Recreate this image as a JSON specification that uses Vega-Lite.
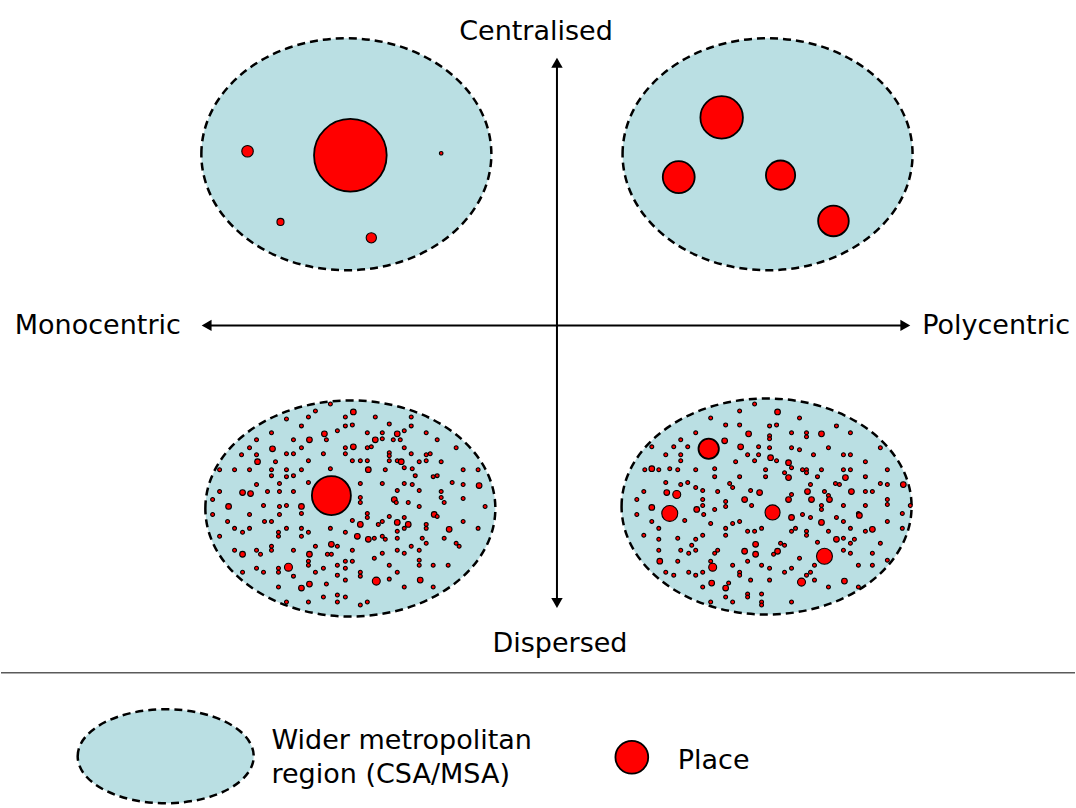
{
  "$schema": "https://vega.github.io/schema/vega-lite/v6.json",
  "width": 1076,
  "height": 808,
  "autosize": {"type": "fit", "contains": "padding"},
  "padding": 0,
  "background": "white",
  "config": {"view": {"stroke": null}},
  "datasets": {
    "regions": [
      {"x": 346, "y": 155, "kind": "top"},
      {"x": 768, "y": 155, "kind": "top"},
      {"x": 350, "y": 511, "kind": "bottom"},
      {"x": 767, "y": 509, "kind": "bottom"},
      {"x": 165, "y": 760, "kind": "legend"}
    ],
    "lines": [
      {"x": 557, "y": 62, "x2": 557, "y2": 607},
      {"x": 205, "y": 327, "x2": 907, "y2": 327}
    ],
    "separator": [
      {"x": 0, "y": 676, "x2": 1076, "y2": 676}
    ],
    "heads": [
      {"x": 557, "y": 63, "dir": "up"},
      {"x": 557, "y": 606, "dir": "down"},
      {"x": 206, "y": 327, "dir": "left"},
      {"x": 906, "y": 327, "dir": "right"}
    ],
    "labels": [
      {"x": 536, "y": 32, "label": "Centralised", "pos": "center"},
      {"x": 560, "y": 647, "label": "Dispersed", "pos": "center"},
      {"x": 97, "y": 328, "label": "Monocentric", "pos": "center"},
      {"x": 997, "y": 328, "label": "Polycentric", "pos": "center"},
      {"x": 271, "y": 745, "label": "Wider metropolitan", "pos": "left"},
      {"x": 271, "y": 779, "label": "region (CSA/MSA)", "pos": "left"},
      {"x": 678, "y": 765, "label": "Place", "pos": "left"}
    ],
    "places": [
      {"x":350,"y":156,"r":41},{"x":247,"y":152,"r":6.5},{"x":441,"y":154,"r":2},{"x":280,"y":223,"r":4},{"x":371,"y":239,"r":5.8},
      {"x":722,"y":118,"r":24},{"x":679,"y":178,"r":18},{"x":781,"y":176,"r":16.5},{"x":834,"y":222,"r":17.3},
      {"x":331,"y":498,"r":22},
      {"x":709,"y":451,"r":11.5},{"x":670,"y":516,"r":9},{"x":773,"y":515,"r":8.5},{"x":825,"y":559,"r":9},
      {"x":632,"y":761,"r":18.5},
      {"x":330,"y":406,"r":2.2},{"x":315,"y":413,"r":2.2},{"x":286,"y":421,"r":2.2},{"x":308,"y":419,"r":2.2},{"x":345,"y":419,"r":2.2},
      {"x":301,"y":428,"r":2.2},{"x":345,"y":428,"r":2.2},{"x":337,"y":433,"r":2.2},{"x":271,"y":435,"r":2.2},{"x":324,"y":436,"r":3.2},
      {"x":256,"y":442,"r":2.2},{"x":309,"y":442,"r":3.2},{"x":293,"y":442,"r":2.2},{"x":326,"y":442,"r":2.2},{"x":249,"y":450,"r":2.2},
      {"x":272,"y":451,"r":3.2},{"x":301,"y":450,"r":2.2},{"x":345,"y":450,"r":2.2},{"x":241,"y":457,"r":2.2},{"x":256,"y":457,"r":2.2},
      {"x":286,"y":456,"r":2.2},{"x":293,"y":456,"r":2.2},{"x":323,"y":456,"r":2.2},{"x":345,"y":456,"r":2.2},{"x":257,"y":464,"r":3.2},
      {"x":275,"y":464,"r":2.2},{"x":308,"y":463,"r":2.2},{"x":219,"y":472,"r":2.2},{"x":234,"y":472,"r":2.2},{"x":249,"y":472,"r":2.2},
      {"x":271,"y":472,"r":2.2},{"x":286,"y":472,"r":2.2},{"x":301,"y":472,"r":2.2},{"x":330,"y":471,"r":2.2},{"x":271,"y":478,"r":2.2},
      {"x":286,"y":479,"r":2.2},{"x":293,"y":478,"r":2.2},{"x":308,"y":485,"r":2.2},{"x":256,"y":487,"r":2.2},{"x":279,"y":486,"r":2.2},
      {"x":219,"y":494,"r":2.2},{"x":242,"y":495,"r":3.2},{"x":250,"y":496,"r":3.2},{"x":267,"y":494,"r":2.2},{"x":279,"y":494,"r":2.2},
      {"x":293,"y":494,"r":2.2},{"x":212,"y":502,"r":2.2},{"x":228,"y":509,"r":3.2},{"x":263,"y":508,"r":2.2},{"x":279,"y":509,"r":2.2},
      {"x":286,"y":508,"r":2.2},{"x":301,"y":509,"r":3.2},
      {"x":353,"y":414,"r":3.2},{"x":375,"y":419,"r":2.2},{"x":411,"y":419,"r":2.2},{"x":352,"y":427,"r":2.2},{"x":389,"y":426,"r":2.2},
      {"x":411,"y":428,"r":2.2},{"x":367,"y":435,"r":2.2},{"x":382,"y":435,"r":2.2},{"x":397,"y":436,"r":3.2},{"x":404,"y":433,"r":2.2},
      {"x":426,"y":435,"r":2.2},{"x":375,"y":442,"r":3.2},{"x":382,"y":441,"r":2.2},{"x":393,"y":442,"r":2.2},{"x":400,"y":442,"r":2.2},
      {"x":437,"y":442,"r":2.2},{"x":353,"y":449,"r":3.2},{"x":367,"y":450,"r":2.2},{"x":371,"y":449,"r":2.2},{"x":404,"y":450,"r":2.2},
      {"x":456,"y":450,"r":2.2},{"x":389,"y":455,"r":2.2},{"x":389,"y":458,"r":2.2},{"x":411,"y":456,"r":2.2},{"x":426,"y":457,"r":2.2},
      {"x":430,"y":456,"r":2.2},{"x":352,"y":463,"r":2.2},{"x":360,"y":463,"r":2.2},{"x":367,"y":463,"r":2.2},{"x":389,"y":463,"r":2.2},
      {"x":397,"y":463,"r":2.2},{"x":401,"y":464,"r":3.2},{"x":419,"y":464,"r":2.2},{"x":426,"y":463,"r":2.2},{"x":441,"y":464,"r":2.2},
      {"x":404,"y":470,"r":2.2},{"x":368,"y":472,"r":3.2},{"x":385,"y":472,"r":2.2},{"x":412,"y":471,"r":2.2},{"x":463,"y":472,"r":2.2},
      {"x":478,"y":472,"r":2.2},{"x":415,"y":478,"r":2.2},{"x":433,"y":479,"r":2.2},{"x":437,"y":478,"r":2.2},{"x":360,"y":486,"r":2.2},
      {"x":382,"y":486,"r":2.2},{"x":404,"y":486,"r":2.2},{"x":412,"y":487,"r":2.2},{"x":452,"y":485,"r":2.2},{"x":463,"y":487,"r":2.2},
      {"x":479,"y":488,"r":3.2},{"x":397,"y":493,"r":2.2},{"x":419,"y":493,"r":2.2},{"x":441,"y":494,"r":2.2},{"x":360,"y":500,"r":2.2},
      {"x":360,"y":505,"r":2.2},{"x":394,"y":502,"r":3.2},{"x":396,"y":505,"r":2.2},{"x":408,"y":505,"r":2.2},{"x":441,"y":500,"r":2.2},
      {"x":444,"y":505,"r":2.2},{"x":463,"y":501,"r":2.2},{"x":419,"y":509,"r":2.2},{"x":485,"y":509,"r":2.2},
      {"x":212,"y":517,"r":2.2},{"x":249,"y":517,"r":2.2},{"x":279,"y":517,"r":2.2},{"x":301,"y":516,"r":2.2},{"x":227,"y":524,"r":2.2},
      {"x":264,"y":524,"r":2.2},{"x":271,"y":524,"r":2.2},{"x":234,"y":531,"r":2.2},{"x":242,"y":535,"r":2.2},{"x":249,"y":531,"r":2.2},
      {"x":278,"y":535,"r":2.2},{"x":278,"y":539,"r":2.2},{"x":286,"y":531,"r":2.2},{"x":301,"y":531,"r":2.2},{"x":308,"y":535,"r":2.2},
      {"x":301,"y":539,"r":2.2},{"x":330,"y":531,"r":2.2},{"x":345,"y":535,"r":2.2},{"x":219,"y":539,"r":2.2},{"x":271,"y":549,"r":2.2},
      {"x":271,"y":553,"r":2.2},{"x":234,"y":553,"r":2.2},{"x":242,"y":557,"r":3.2},{"x":256,"y":553,"r":2.2},{"x":260,"y":557,"r":2.2},
      {"x":293,"y":553,"r":2.2},{"x":309,"y":557,"r":3.2},{"x":315,"y":549,"r":2.2},{"x":331,"y":547,"r":3.2},{"x":337,"y":549,"r":2.2},
      {"x":327,"y":557,"r":2.2},{"x":331,"y":557,"r":2.2},{"x":345,"y":564,"r":2.2},{"x":308,"y":564,"r":2.2},{"x":308,"y":568,"r":2.2},
      {"x":256,"y":571,"r":2.2},{"x":278,"y":571,"r":2.2},{"x":288,"y":570,"r":4.5},{"x":323,"y":571,"r":2.2},{"x":337,"y":568,"r":2.2},
      {"x":345,"y":571,"r":2.2},{"x":242,"y":575,"r":2.2},{"x":263,"y":575,"r":2.2},{"x":278,"y":575,"r":2.2},{"x":293,"y":579,"r":2.2},
      {"x":315,"y":575,"r":2.2},{"x":337,"y":578,"r":2.2},{"x":345,"y":583,"r":2.2},{"x":278,"y":590,"r":2.2},{"x":301,"y":591,"r":3.2},
      {"x":309,"y":587,"r":3.2},{"x":326,"y":587,"r":2.2},{"x":337,"y":598,"r":2.2},{"x":345,"y":600,"r":2.2},{"x":323,"y":600,"r":2.2},
      {"x":286,"y":605,"r":2.2},{"x":308,"y":605,"r":2.2},{"x":337,"y":605,"r":2.2},
      {"x":367,"y":516,"r":2.2},{"x":367,"y":520,"r":2.2},{"x":389,"y":519,"r":2.2},{"x":404,"y":520,"r":2.2},{"x":434,"y":517,"r":3.2},
      {"x":437,"y":519,"r":2.2},{"x":352,"y":523,"r":2.2},{"x":360,"y":527,"r":3.2},{"x":378,"y":527,"r":2.2},{"x":382,"y":524,"r":2.2},
      {"x":397,"y":525,"r":3.2},{"x":408,"y":527,"r":3.2},{"x":404,"y":531,"r":2.2},{"x":397,"y":534,"r":2.2},{"x":426,"y":527,"r":2.2},
      {"x":426,"y":531,"r":2.2},{"x":463,"y":524,"r":2.2},{"x":478,"y":531,"r":2.2},{"x":449,"y":532,"r":3.2},{"x":357,"y":539,"r":3.2},
      {"x":368,"y":542,"r":3.2},{"x":374,"y":541,"r":2.2},{"x":382,"y":539,"r":2.2},{"x":385,"y":542,"r":2.2},{"x":397,"y":541,"r":2.2},
      {"x":422,"y":541,"r":2.2},{"x":426,"y":546,"r":2.2},{"x":444,"y":541,"r":2.2},{"x":456,"y":546,"r":2.2},{"x":459,"y":549,"r":2.2},
      {"x":411,"y":549,"r":2.2},{"x":352,"y":553,"r":2.2},{"x":382,"y":556,"r":2.2},{"x":397,"y":553,"r":2.2},{"x":404,"y":556,"r":2.2},
      {"x":419,"y":553,"r":2.2},{"x":374,"y":561,"r":2.2},{"x":352,"y":564,"r":2.2},{"x":419,"y":563,"r":2.2},{"x":419,"y":568,"r":2.2},
      {"x":389,"y":568,"r":2.2},{"x":433,"y":568,"r":2.2},{"x":448,"y":568,"r":2.2},{"x":360,"y":575,"r":2.2},{"x":360,"y":579,"r":2.2},
      {"x":397,"y":575,"r":2.2},{"x":376,"y":584,"r":4.5},{"x":389,"y":582,"r":2.2},{"x":420,"y":583,"r":3.2},{"x":404,"y":590,"r":2.2},
      {"x":433,"y":590,"r":2.2},{"x":360,"y":608,"r":2.2},{"x":367,"y":605,"r":2.2},
      {"x":755,"y":406,"r":2.2},{"x":740,"y":413,"r":2.2},{"x":711,"y":420,"r":2.2},{"x":726,"y":427,"r":2.2},{"x":740,"y":427,"r":2.2},
      {"x":696,"y":435,"r":2.2},{"x":749,"y":436,"r":3.2},{"x":681,"y":442,"r":2.2},{"x":725,"y":443,"r":3.2},{"x":652,"y":449,"r":2.2},
      {"x":674,"y":449,"r":2.2},{"x":688,"y":449,"r":2.2},{"x":741,"y":449,"r":3.2},{"x":759,"y":449,"r":2.2},{"x":666,"y":457,"r":2.2},
      {"x":681,"y":457,"r":2.2},{"x":681,"y":463,"r":2.2},{"x":748,"y":457,"r":2.2},{"x":759,"y":457,"r":2.2},{"x":736,"y":464,"r":2.2},
      {"x":755,"y":463,"r":2.2},{"x":645,"y":472,"r":2.2},{"x":652,"y":471,"r":3.2},{"x":659,"y":472,"r":2.2},{"x":670,"y":471,"r":2.2},
      {"x":678,"y":472,"r":2.2},{"x":696,"y":472,"r":2.2},{"x":715,"y":471,"r":2.2},{"x":715,"y":479,"r":2.2},{"x":740,"y":479,"r":2.2},
      {"x":766,"y":472,"r":2.2},{"x":766,"y":479,"r":2.2},{"x":666,"y":485,"r":2.2},{"x":681,"y":487,"r":2.2},{"x":688,"y":485,"r":2.2},
      {"x":696,"y":490,"r":2.2},{"x":703,"y":493,"r":2.2},{"x":718,"y":494,"r":2.2},{"x":730,"y":486,"r":2.2},{"x":733,"y":490,"r":2.2},
      {"x":751,"y":493,"r":2.2},{"x":760,"y":495,"r":3.2},{"x":644,"y":494,"r":2.2},{"x":667,"y":495,"r":3.2},{"x":677,"y":497,"r":4.5},
      {"x":637,"y":502,"r":2.2},{"x":703,"y":502,"r":2.2},{"x":726,"y":504,"r":2.2},{"x":745,"y":502,"r":3.2},{"x":752,"y":508,"r":2.2},
      {"x":703,"y":508,"r":2.2},{"x":726,"y":509,"r":2.2},
      {"x":778,"y":414,"r":3.2},{"x":800,"y":420,"r":2.2},{"x":770,"y":428,"r":2.2},{"x":777,"y":427,"r":2.2},{"x":837,"y":428,"r":2.2},
      {"x":770,"y":438,"r":2.2},{"x":770,"y":441,"r":2.2},{"x":792,"y":435,"r":2.2},{"x":807,"y":435,"r":2.2},{"x":807,"y":439,"r":2.2},
      {"x":822,"y":436,"r":3.2},{"x":851,"y":435,"r":2.2},{"x":770,"y":450,"r":2.2},{"x":792,"y":450,"r":2.2},{"x":800,"y":452,"r":2.2},
      {"x":829,"y":450,"r":2.2},{"x":881,"y":450,"r":2.2},{"x":814,"y":457,"r":2.2},{"x":844,"y":457,"r":2.2},{"x":851,"y":457,"r":2.2},
      {"x":771,"y":460,"r":3.2},{"x":777,"y":463,"r":2.2},{"x":789,"y":465,"r":3.2},{"x":866,"y":464,"r":2.2},{"x":792,"y":470,"r":2.2},
      {"x":785,"y":475,"r":2.2},{"x":789,"y":480,"r":3.2},{"x":803,"y":472,"r":2.2},{"x":807,"y":472,"r":2.2},{"x":807,"y":475,"r":2.2},
      {"x":822,"y":472,"r":2.2},{"x":844,"y":472,"r":2.2},{"x":851,"y":472,"r":2.2},{"x":888,"y":472,"r":2.2},{"x":818,"y":479,"r":2.2},
      {"x":846,"y":480,"r":3.2},{"x":866,"y":479,"r":2.2},{"x":811,"y":487,"r":2.2},{"x":836,"y":486,"r":2.2},{"x":840,"y":487,"r":2.2},
      {"x":881,"y":486,"r":2.2},{"x":888,"y":487,"r":2.2},{"x":904,"y":487,"r":3.2},{"x":808,"y":494,"r":3.2},{"x":825,"y":494,"r":2.2},
      {"x":829,"y":498,"r":2.2},{"x":852,"y":494,"r":3.2},{"x":866,"y":494,"r":2.2},{"x":873,"y":494,"r":2.2},{"x":792,"y":497,"r":2.2},
      {"x":789,"y":502,"r":3.2},{"x":812,"y":502,"r":3.2},{"x":830,"y":502,"r":3.2},{"x":888,"y":502,"r":2.2},{"x":822,"y":508,"r":2.2},
      {"x":844,"y":508,"r":2.2},{"x":866,"y":508,"r":2.2},{"x":888,"y":507,"r":2.2},{"x":911,"y":508,"r":2.2},
      {"x":637,"y":517,"r":2.2},{"x":652,"y":510,"r":3.2},{"x":652,"y":524,"r":2.2},{"x":685,"y":523,"r":2.2},{"x":697,"y":512,"r":3.2},
      {"x":704,"y":517,"r":2.2},{"x":715,"y":512,"r":2.2},{"x":659,"y":531,"r":2.2},{"x":711,"y":526,"r":2.2},{"x":726,"y":531,"r":2.2},
      {"x":733,"y":526,"r":2.2},{"x":740,"y":524,"r":2.2},{"x":644,"y":538,"r":2.2},{"x":659,"y":542,"r":2.2},{"x":678,"y":541,"r":2.2},
      {"x":696,"y":542,"r":2.2},{"x":703,"y":538,"r":2.2},{"x":726,"y":538,"r":2.2},{"x":748,"y":534,"r":2.2},{"x":755,"y":534,"r":2.2},
      {"x":762,"y":531,"r":2.2},{"x":692,"y":548,"r":2.2},{"x":756,"y":547,"r":3.2},{"x":659,"y":553,"r":2.2},{"x":681,"y":553,"r":2.2},
      {"x":689,"y":556,"r":2.2},{"x":696,"y":553,"r":2.2},{"x":715,"y":556,"r":2.2},{"x":718,"y":553,"r":2.2},{"x":745,"y":554,"r":3.2},
      {"x":756,"y":557,"r":3.2},{"x":660,"y":564,"r":3.2},{"x":678,"y":564,"r":2.2},{"x":711,"y":564,"r":2.2},{"x":713,"y":570,"r":4.5},
      {"x":733,"y":568,"r":2.2},{"x":748,"y":564,"r":2.2},{"x":762,"y":568,"r":2.2},{"x":666,"y":575,"r":2.2},{"x":674,"y":578,"r":2.2},
      {"x":689,"y":575,"r":2.2},{"x":696,"y":578,"r":2.2},{"x":703,"y":575,"r":2.2},{"x":740,"y":575,"r":2.2},{"x":740,"y":578,"r":2.2},
      {"x":751,"y":583,"r":2.2},{"x":712,"y":586,"r":3.2},{"x":729,"y":586,"r":2.2},{"x":703,"y":590,"r":2.2},{"x":726,"y":591,"r":3.2},
      {"x":762,"y":597,"r":2.2},{"x":748,"y":597,"r":2.2},{"x":748,"y":600,"r":2.2},{"x":726,"y":600,"r":2.2},{"x":711,"y":605,"r":2.2},
      {"x":733,"y":605,"r":2.2},{"x":762,"y":605,"r":2.2},{"x":762,"y":608,"r":2.2},
      {"x":792,"y":520,"r":3.2},{"x":803,"y":517,"r":2.2},{"x":811,"y":520,"r":2.2},{"x":822,"y":512,"r":2.2},{"x":822,"y":525,"r":3.2},
      {"x":837,"y":520,"r":2.2},{"x":844,"y":524,"r":2.2},{"x":859,"y":516,"r":2.2},{"x":860,"y":518,"r":3.2},{"x":851,"y":531,"r":2.2},
      {"x":888,"y":524,"r":2.2},{"x":903,"y":516,"r":2.2},{"x":903,"y":531,"r":2.2},{"x":873,"y":532,"r":3.2},{"x":866,"y":534,"r":2.2},
      {"x":792,"y":534,"r":2.2},{"x":796,"y":531,"r":2.2},{"x":807,"y":534,"r":2.2},{"x":807,"y":538,"r":2.2},{"x":829,"y":534,"r":2.2},
      {"x":837,"y":542,"r":3.2},{"x":844,"y":541,"r":2.2},{"x":855,"y":542,"r":2.2},{"x":851,"y":546,"r":2.2},{"x":818,"y":545,"r":2.2},
      {"x":781,"y":546,"r":2.2},{"x":785,"y":548,"r":2.2},{"x":778,"y":554,"r":3.2},{"x":774,"y":557,"r":2.2},{"x":844,"y":553,"r":2.2},
      {"x":851,"y":556,"r":2.2},{"x":881,"y":546,"r":2.2},{"x":873,"y":556,"r":2.2},{"x":800,"y":561,"r":2.2},{"x":770,"y":571,"r":2.2},
      {"x":792,"y":571,"r":2.2},{"x":815,"y":568,"r":2.2},{"x":859,"y":568,"r":2.2},{"x":873,"y":568,"r":2.2},{"x":888,"y":563,"r":2.2},
      {"x":785,"y":575,"r":2.2},{"x":811,"y":575,"r":2.2},{"x":807,"y":578,"r":2.2},{"x":770,"y":583,"r":2.2},{"x":815,"y":583,"r":2.2},
      {"x":802,"y":585,"r":4.5},{"x":845,"y":584,"r":3.2},{"x":829,"y":590,"r":2.2},{"x":859,"y":590,"r":2.2},{"x":792,"y":605,"r":2.2}
    ]
  },
  "encoding": {
    "x": {"field": "x", "type": "quantitative", "scale": {"domain": [0, 1076], "nice": false, "zero": false}, "axis": null},
    "y": {"field": "y", "type": "quantitative", "scale": {"domain": [0, 808], "nice": false, "zero": false, "reverse": true}, "axis": null}
  },
  "layer": [
    {
      "data": {"name": "separator"},
      "mark": {"type": "rule", "color": "#5a5a5a", "strokeWidth": 1.5},
      "encoding": {"x2": {"field": "x2"}, "y2": {"field": "y2"}}
    },
    {
      "data": {"name": "regions"},
      "mark": {"type": "point", "filled": true, "size": 84100, "fill": "#badfe3", "fillOpacity": 1, "stroke": "#000000", "strokeWidth": 2.5, "strokeDash": [8, 5], "opacity": 1},
      "encoding": {
        "shape": {
          "field": "kind", "type": "nominal", "legend": null,
          "scale": {
            "domain": ["top", "bottom", "legend"],
            "range": [
              "M-1,0C-1,-0.4418,-0.5523,-0.8,0,-0.8C0.5523,-0.8,1,-0.4418,1,0C1,0.4418,0.5523,0.8,0,0.8C-0.5523,0.8,-1,0.4418,-1,0Z",
              "M-1,0C-1,-0.4115,-0.5523,-0.745,0,-0.745C0.5523,-0.745,1,-0.4115,1,0C1,0.4115,0.5523,0.745,0,0.745C-0.5523,0.745,-1,0.4115,-1,0Z",
              "M-0.607,0C-0.607,-0.179,-0.3352,-0.3241,0,-0.3241C0.3352,-0.3241,0.607,-0.179,0.607,0C0.607,0.179,0.3352,0.3241,0,0.3241C-0.3352,0.3241,-0.607,0.179,-0.607,0Z"
            ]
          }
        }
      }
    },
    {
      "data": {"name": "places"},
      "mark": {"type": "circle", "fill": "#ff0000", "fillOpacity": 1, "opacity": 1, "stroke": "#000000"},
      "encoding": {
        "size": {"field": "r", "type": "quantitative", "legend": null, "scale": {"type": "pow", "exponent": 2, "domain": [0, 50], "range": [0, 7854]}},
        "strokeWidth": {"condition": {"test": "datum.r > 10", "value": 1.8}, "value": 1.1}
      }
    },
    {
      "data": {"name": "lines"},
      "mark": {"type": "rule", "color": "#000000", "strokeWidth": 2},
      "encoding": {"x2": {"field": "x2"}, "y2": {"field": "y2"}}
    },
    {
      "data": {"name": "heads"},
      "mark": {"type": "point", "filled": true, "size": 130, "color": "#000000", "opacity": 1},
      "encoding": {
        "shape": {
          "field": "dir", "type": "nominal", "legend": null,
          "scale": {"domain": ["up", "down", "left", "right"], "range": ["triangle-up", "triangle-down", "triangle-left", "triangle-right"]}
        }
      }
    },
    {
      "data": {"name": "labels"},
      "transform": [{"filter": "datum.pos === 'center'"}],
      "mark": {"type": "text", "align": "center", "baseline": "middle", "font": "DejaVu Sans", "fontSize": 27, "color": "#000000"},
      "encoding": {"text": {"field": "label"}}
    },
    {
      "data": {"name": "labels"},
      "transform": [{"filter": "datum.pos === 'left'"}],
      "mark": {"type": "text", "align": "left", "baseline": "middle", "font": "DejaVu Sans", "fontSize": 27, "color": "#000000"},
      "encoding": {"text": {"field": "label"}}
    }
  ],
  "resolve": {"scale": {"shape": "independent", "size": "independent"}}
}
